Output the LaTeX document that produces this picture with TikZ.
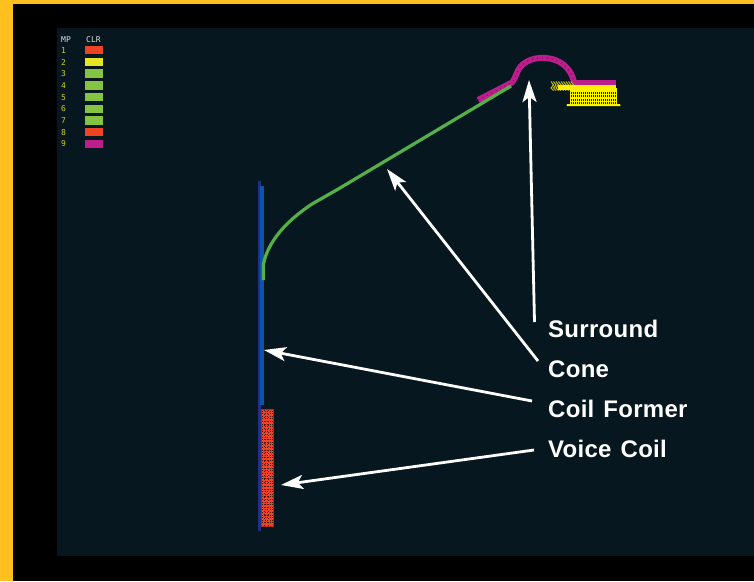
\documentclass[tikz,border=0pt]{standalone}
\usepackage{fontspec}
\setmainfont{Liberation Sans}[LetterSpace=1.2,WordSpace=1.3]
\newfontfamily\legendfont{DejaVu Sans Mono}
\usetikzlibrary{arrows.meta}
\definecolor{frameY}{HTML}{FFC020}
\definecolor{panel}{HTML}{06171F}
\definecolor{cRed}{HTML}{F04323}
\definecolor{cYel}{HTML}{E8E620}
\definecolor{cGrn}{HTML}{85C441}
\definecolor{cMag}{HTML}{BC1E8C}
\definecolor{cone}{HTML}{55B04A}
\definecolor{blueB}{HTML}{0B55B0}
\definecolor{blueD}{HTML}{23308A}
\definecolor{meshY}{HTML}{FFF200}
\tikzset{
  x=1pt,y=-1pt,
  partlabel/.style={anchor=west,inner sep=0pt,text=white,font=\fontsize{24}{26}\selectfont\bfseries},
  callout/.style={draw=white,line width=2.8pt,-{Stealth[length=22pt,width=14pt,inset=5pt]}},
  swatch/.style={minimum width=17.5pt,minimum height=8.4pt,inner sep=0pt,draw=none},
  legendhead/.style={inner sep=0pt,anchor=west,text=black!12,font=\legendfont\fontsize{8}{8}\selectfont},
  legendnum/.style={inner sep=0pt,anchor=west,text=cYel!90!black,font=\legendfont\fontsize{8}{8}\selectfont},
}
\begin{document}
\begin{tikzpicture}
\useasboundingbox (0,0) rectangle (754,581);
\fill[frameY] (0,0) rectangle (754,581);
\fill[black] (13,4) rectangle (754,581);
\fill[panel] (57,28) rectangle (754,556);
% legend
\node[legendhead] (mp) at (61,39.5) {MP};
\node[legendhead] (clr) at (86,39.5) {CLR};
\foreach \n/\c [count=\i from 0] in {1/cRed,2/cYel,3/cGrn,4/cGrn,5/cGrn,6/cGrn,7/cGrn,8/cRed,9/cMag}{
  \node[legendnum] (num\n) at (61,50.4+11.7*\i) {\n};
  \node[swatch,fill=\c] (sw\n) at (94.2,50.2+11.7*\i) {};
}
% former
\fill[blueD] (258,181) rectangle (260.8,531);
\fill[blueB] (260,186) rectangle (264,405);
% voice coil
\fill[cRed!70!black] (261,409) rectangle (273.5,527);
\fill[cRed] (262,410) rectangle (272.5,526);
\foreach \yy in {411,413.6,...,525}{
  \draw[black!70!cRed,line width=.7pt,dash pattern=on 1pt off 1.6pt] (262,\yy) -- (272.5,\yy);
}
\foreach \xx in {264.5,268.5}{
  \draw[black!70!cRed,line width=.6pt,dash pattern=on 1.2pt off 2.4pt] (\xx,410) -- (\xx,526);
}
% surround
\draw[cMag,line width=6pt,line join=round] (478,100) -- (512,82.5)
  .. controls (517,76) and (516,71) .. (522,65)
  .. controls (530,58) and (540,57.5) .. (546,58)
  .. controls (560,59) and (571,68) .. (574,82);
\draw[black!40!cMag,line width=1pt,dash pattern=on 1pt off 4pt] (478,100) -- (512,82.5)
  .. controls (517,76) and (516,71) .. (522,65)
  .. controls (530,58) and (540,57.5) .. (546,58)
  .. controls (560,59) and (571,68) .. (574,82);
\fill[cMag] (573,80) rectangle (616,85);
% cone
\draw[cone,line width=3.2pt] (511,86) -- (340,188) -- (312,204)
  .. controls (285,222) and (268,242) .. (263.5,264) -- (263.5,280);
% suspension mesh
\foreach \xx in {551,553.5,...,572}{
  \draw[meshY!80!black,line width=1pt] (\xx,81.5) -- (\xx+2.5,85) -- (\xx,88) -- (\xx+2.5,90.5);
}
\fill[meshY] (558,84.5) rectangle (616,90);
\foreach \xx in {570.5,572.5,...,617}{
  \draw[meshY,line width=1.1pt] (\xx,88) -- (\xx,105);
}
\foreach \yy in {91,94.5,98,101.5}{
  \draw[meshY,line width=1.4pt] (570,\yy) -- (617,\yy);
}
\fill[meshY] (567,104) -- (620,104) -- (620.5,106) -- (566.5,106) -- cycle;
% labels
\node[partlabel] (surround) at (548,329) {Surround};
\node[partlabel] (conelab) at (548,369) {Cone};
\node[partlabel] (former) at (548,409) {Coil Former};
\node[partlabel] (coil) at (548,449) {Voice Coil};
% arrow ends
\coordinate (s0) at (534.5,322); \coordinate (s1) at (529,80);
\coordinate (c0) at (538,361);   \coordinate (c1) at (387,169);
\coordinate (f0) at (532,401);   \coordinate (f1) at (264,350);
\coordinate (v0) at (534,450);   \coordinate (v1) at (281,485);
\draw[callout] (s0) -- (s1);
\draw[callout] (c0) -- (c1);
\draw[callout] (f0) -- (f1);
\draw[callout] (v0) -- (v1);
\end{tikzpicture}
\end{document}
